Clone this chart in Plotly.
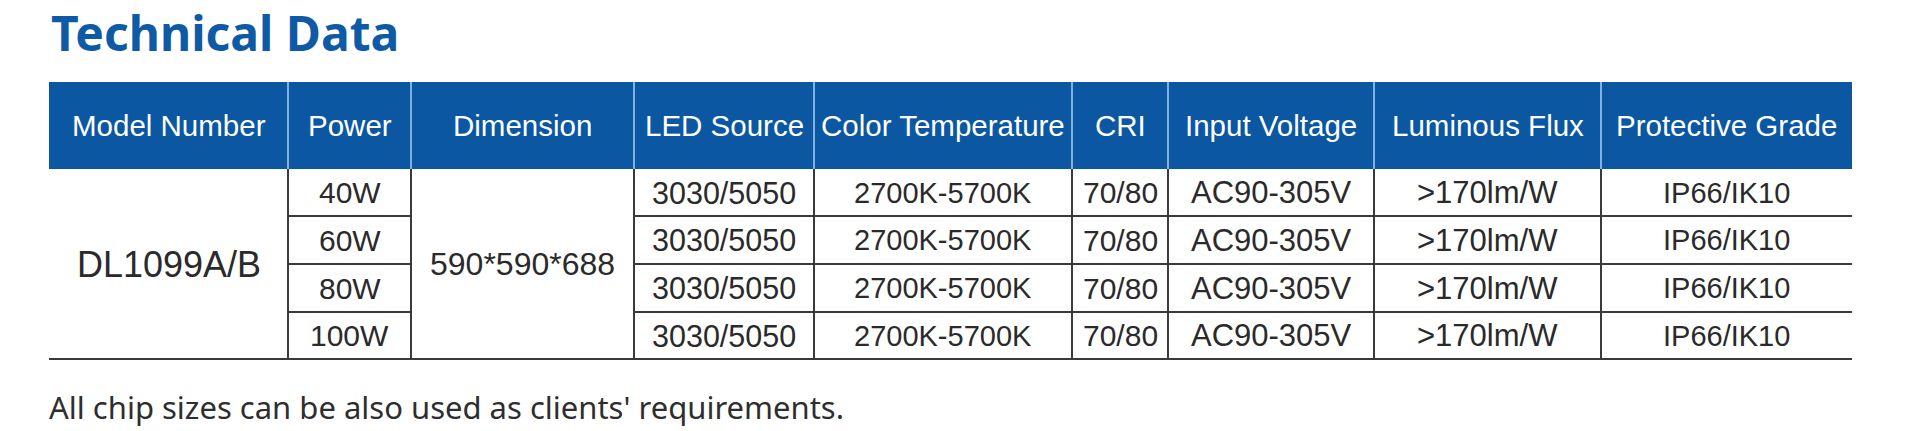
import plotly.graph_objects as go

# chart data
title = "Technical Data"
note = "All chip sizes can be also used as clients' requirements."
headers = ["Model Number", "Power", "Dimension", "LED Source", "Color Temperature",
           "CRI", "Input Voltage", "Luminous Flux", "Protective Grade"]
model = "DL1099A/B"
dimension = "590*590*688"
power = ["40W", "60W", "80W", "100W"]
led_source = ["3030/5050", "3030/5050", "3030/5050", "3030/5050"]
color_temp = ["2700K-5700K", "2700K-5700K", "2700K-5700K", "2700K-5700K"]
cri = ["70/80", "70/80", "70/80", "70/80"]
input_voltage = ["AC90-305V", "AC90-305V", "AC90-305V", "AC90-305V"]
luminous_flux = [">170lm/W", ">170lm/W", ">170lm/W", ">170lm/W"]
protective = ["IP66/IK10", "IP66/IK10", "IP66/IK10", "IP66/IK10"]

# page geometry (pixels, y goes down)
W, H = 1920, 431
col_edges = [49, 288, 411, 634, 814, 1072, 1168, 1374, 1601, 1852]
head_top, head_bot = 82, 169
row_edges = [169, 216, 264, 312, 359]

BLUE = '#0b57a2'
LINE = '#3a3a3a'
TXT = '#2a2a2a'
TABLE_FONT = 'Liberation Sans'

fig = go.Figure()
shapes = []
ann = []

# header band
shapes.append(dict(type='rect', x0=col_edges[0], x1=col_edges[-1], y0=head_top, y1=head_bot,
                   fillcolor=BLUE, line=dict(width=0), layer='below'))
for x in col_edges[1:-1]:
    shapes.append(dict(type='line', x0=x, x1=x, y0=head_top, y1=head_bot,
                       line=dict(color='#a9d0f3', width=1.5)))

# body grid
for x in col_edges[1:-1]:
    shapes.append(dict(type='line', x0=x, x1=x, y0=row_edges[0], y1=row_edges[-1],
                       line=dict(color=LINE, width=2)))
for y in row_edges[1:-1]:
    # rows are merged under Model Number and Dimension
    shapes.append(dict(type='line', x0=col_edges[1], x1=col_edges[2], y0=y, y1=y,
                       line=dict(color=LINE, width=2)))
    shapes.append(dict(type='line', x0=col_edges[3], x1=col_edges[-1], y0=y, y1=y,
                       line=dict(color=LINE, width=2)))
shapes.append(dict(type='line', x0=col_edges[0], x1=col_edges[-1], y0=row_edges[-1], y1=row_edges[-1],
                   line=dict(color=LINE, width=2)))

def mid(a, b):
    return (a + b) / 2

# header labels
for i, h in enumerate(headers):
    ann.append(dict(x=mid(col_edges[i], col_edges[i + 1]), y=mid(head_top, head_bot), text=h,
                    showarrow=False, xanchor='center', yanchor='middle',
                    font=dict(family=TABLE_FONT, size=29.5, color='white')))

# merged cells
body_mid = mid(row_edges[0], row_edges[-1])
ann.append(dict(x=mid(col_edges[0], col_edges[1]), y=body_mid, text=model, showarrow=False,
                font=dict(family=TABLE_FONT, size=36, color=TXT)))
ann.append(dict(x=mid(col_edges[2], col_edges[3]), y=body_mid, text=dimension, showarrow=False,
                font=dict(family=TABLE_FONT, size=32, color=TXT)))

# per-row cells
columns = [(1, power, 30), (3, led_source, 30.5), (4, color_temp, 29), (5, cri, 30),
           (6, input_voltage, 31), (7, luminous_flux, 31), (8, protective, 29)]
for ci, values, fs in columns:
    for r, v in enumerate(values):
        ann.append(dict(x=mid(col_edges[ci], col_edges[ci + 1]), y=mid(row_edges[r], row_edges[r + 1]),
                        text=v, showarrow=False, xanchor='center', yanchor='middle',
                        font=dict(family=TABLE_FONT, size=fs, color=TXT)))

# title and footnote
ann.append(dict(x=49, y=32, text='<b>' + title + '</b>', showarrow=False, xanchor='left', yanchor='middle',
                font=dict(family='Noto Sans', size=48, color='#0f5aa5')))
ann.append(dict(x=47, y=407, text=note, showarrow=False, xanchor='left', yanchor='middle',
                font=dict(family='Noto Sans', size=31, color='#2e2e2e')))

fig.update_layout(
    width=W, height=H,
    margin=dict(l=0, r=0, t=0, b=0),
    paper_bgcolor='white', plot_bgcolor='white',
    xaxis=dict(range=[0, W], visible=False, fixedrange=True),
    yaxis=dict(range=[H, 0], visible=False, fixedrange=True),
    shapes=shapes, annotations=ann, showlegend=False,
)

fig.write_html("out.html", config={'displayModeBar': False},
               post_script="document.body.style.margin='0';document.body.style.overflow='hidden';")
